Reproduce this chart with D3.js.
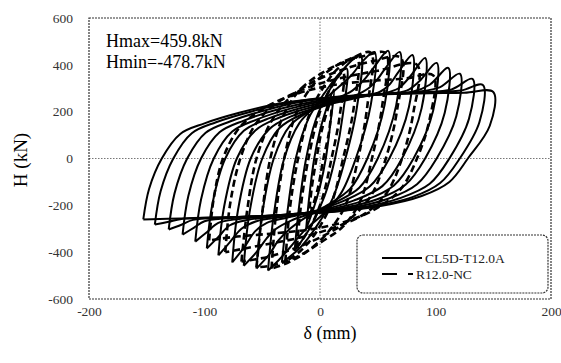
<!DOCTYPE html>
<html>
<head>
<meta charset="utf-8">
<script src="https://cdn.jsdelivr.net/npm/d3@7"></script>
<style>
  html, body { margin: 0; padding: 0; background: #fff; }
</style>
</head>
<body>
<svg id="chart" width="561" height="363"></svg>
<script>
// axis ticks
const xTicks = [-200, -100, 0, 100, 200];
const yTicks = [-600, -400, -200, 0, 200, 400, 600];
const seriesNames = ["CL5D-T12.0A", "R12.0-NC"];
const notes = ["Hmax=459.8kN", "Hmin=-478.7kN"];
const serif = "'Liberation Serif', 'Times New Roman', 'DejaVu Serif', serif";

// CL5D-T12.0A : one array per cycle, [delta (mm), H (kN)]
const loopsCL5D = [
  [[-12,-300],[-9,-150],[-5,0],[0,120],[6,220],[12,295],[9,150],[5,0],[0,-120],[-6,-220],[-12,-300]],
  [[-22,-395],[-18,-200],[-12,0],[-4,160],[8,290],[23,385],[20,195],[13,0],[4,-160],[-8,-290],[-22,-395]],
  [[-33,-445],[-28,-220],[-21,0],[-10,170],[4,280],[18,370],[35,440],[32,220],[22,0],[11,-170],[-3,-290],[-17,-380],[-33,-445]],
  [[-45,-478.7],[-40,-240],[-31,0],[-18,150],[-2,230],[15,300],[28,360],[36,410],[47,455],[44,230],[31,0],[18,-150],[2,-240],[-14,-310],[-26,-380],[-35,-430],[-45,-478.7]],
  [[-55,-470],[-50,-235],[-40,0],[-26,140],[-8,205],[12,250],[28,290],[38,335],[46,385],[59,459.8],[56,230],[41,0],[26,-130],[6,-200],[-12,-250],[-26,-300],[-36,-350],[-44,-410],[-55,-470]],
  [[-66,-458],[-61,-230],[-50,0],[-35,130],[-15,190],[10,235],[30,268],[42,300],[50,340],[58,395],[69,455],[66,228],[50,0],[34,-125],[12,-190],[-8,-235],[-25,-265],[-38,-300],[-46,-340],[-55,-400],[-66,-458]],
  [[-76,-444],[-71,-220],[-60,0],[-44,125],[-25,180],[5,228],[35,262],[52,285],[60,315],[68,370],[80,442],[77,220],[60,0],[43,-120],[20,-182],[-5,-225],[-28,-252],[-46,-275],[-56,-310],[-65,-375],[-76,-444]],
  [[-88,-414],[-83,-205],[-72,0],[-56,120],[-35,175],[-5,222],[28,258],[55,278],[68,300],[78,350],[91,429],[88,215],[71,0],[54,-118],[29,-180],[0,-222],[-30,-248],[-55,-268],[-68,-300],[-78,-357],[-88,-414]],
  [[-98,-384],[-93,-190],[-82,0],[-66,118],[-45,170],[-15,218],[18,254],[55,276],[75,290],[86,330],[101,408],[98,205],[81,0],[64,-115],[39,-178],[5,-220],[-35,-245],[-62,-262],[-78,-285],[-88,-335],[-98,-384]],
  [[-108,-355],[-103,-175],[-92,0],[-76,115],[-55,166],[-25,214],[8,250],[50,273],[80,285],[95,315],[111,387],[108,195],[91,0],[74,-112],[49,-175],[12,-218],[-35,-242],[-70,-258],[-88,-275],[-98,-315],[-108,-355]],
  [[-119,-325],[-114,-160],[-103,0],[-87,112],[-66,162],[-36,210],[-3,246],[40,270],[85,285],[104,305],[121,362],[118,180],[101,0],[84,-110],[59,-172],[22,-215],[-30,-240],[-80,-255],[-100,-268],[-109,-295],[-119,-325]],
  [[-131,-303],[-126,-150],[-115,0],[-99,110],[-78,158],[-48,205],[-15,243],[30,268],[85,282],[114,295],[132,340],[129,170],[112,0],[95,-108],[70,-168],[32,-212],[-20,-238],[-80,-252],[-110,-262],[-120,-283],[-131,-303]],
  [[-143,-282],[-138,-140],[-127,0],[-111,108],[-90,155],[-60,200],[-25,240],[20,265],[80,280],[122,290],[141,314],[138,155],[121,0],[104,-105],[80,-165],[42,-208],[-10,-235],[-70,-250],[-120,-258],[-131,-270],[-143,-282]],
  [[-153,-260],[-148,-130],[-137,0],[-121,105],[-100,150],[-70,195],[-35,235],[10,262],[70,276],[125,281],[150,284],[147,140],[128,0],[112,-100],[88,-160],[50,-205],[0,-232],[-60,-248],[-120,-256],[-153,-260]]
];

// R12.0-NC : one array per cycle
const loopsR12 = [
  [[-10,-260],[-7,-120],[-3,0],[2,130],[10,250],[8,120],[3,0],[-2,-130],[-10,-260]],
  [[-20,-380],[-16,-180],[-10,0],[-2,170],[8,290],[20,370],[17,180],[10,0],[2,-170],[-8,-290],[-20,-380]],
  [[-30,-440],[-26,-210],[-19,0],[-9,190],[5,320],[18,395],[32,430],[29,210],[20,0],[10,-190],[-4,-320],[-17,-395],[-30,-440]],
  [[-42,-470],[-38,-230],[-31,0],[-20,200],[-5,320],[12,390],[28,430],[44,452],[41,225],[33,0],[22,-200],[6,-320],[-12,-400],[-28,-445],[-42,-470]],
  [[-55,-465],[-50,-230],[-43,0],[-32,180],[-18,290],[0,360],[20,410],[40,440],[57,450],[54,230],[45,0],[35,-180],[20,-290],[0,-360],[-20,-420],[-40,-455],[-55,-465]],
  [[-68,-440],[-63,-220],[-55,0],[-42,160],[-25,265],[-5,330],[20,380],[45,415],[70,430],[67,215],[57,0],[44,-160],[25,-262],[5,-325],[-20,-380],[-45,-420],[-68,-440]],
  [[-82,-400],[-78,-200],[-69,0],[-56,145],[-38,235],[-15,295],[15,340],[50,375],[84,400],[81,200],[71,0],[58,-145],[40,-232],[15,-290],[-15,-335],[-50,-370],[-82,-400]],
  [[-96,-350],[-92,-170],[-84,0],[-70,130],[-50,210],[-25,268],[5,308],[40,330],[75,342],[98,355],[95,170],[84,0],[70,-130],[50,-210],[25,-265],[-5,-300],[-40,-320],[-75,-335],[-96,-350]]
];

const svg = d3.select("#chart");
const padL = 89, padR = 551, padT = 18, padB = 299;

const x = d3.scaleLinear().domain([-200, 200]).range([padL, padR]);
const y = d3.scaleLinear().domain([-600, 600]).range([padB, padT]);

// zero lines
svg.append("line")
  .attr("x1", x(-200)).attr("x2", x(200))
  .attr("y1", y(0)).attr("y2", y(0))
  .attr("stroke", "#777").attr("stroke-width", 1)
  .attr("stroke-dasharray", "1.5,1.5");
svg.append("line")
  .attr("x1", x(0)).attr("x2", x(0))
  .attr("y1", y(-600)).attr("y2", y(600))
  .attr("stroke", "#777").attr("stroke-width", 1)
  .attr("stroke-dasharray", "1.5,1.5");

// loops
const line = d3.line()
  .x(d => x(d[0]))
  .y(d => y(d[1]))
  .curve(d3.curveCatmullRom.alpha(0.5));

svg.append("g").selectAll("path")
  .data(loopsCL5D)
  .enter()
  .append("path")
  .attr("d", line)
  .attr("fill", "none")
  .attr("stroke", "#000")
  .attr("stroke-width", 2);

svg.append("g").selectAll("path")
  .data(loopsR12)
  .enter()
  .append("path")
  .attr("d", line)
  .attr("fill", "none")
  .attr("stroke", "#000")
  .attr("stroke-width", 2.6)
  .attr("stroke-dasharray", "7,4");

// frame
svg.append("rect")
  .attr("x", padL).attr("y", padT)
  .attr("width", padR - padL).attr("height", padB - padT)
  .attr("fill", "none")
  .attr("stroke", "#333").attr("stroke-width", 1.2)
  .attr("stroke-dasharray", "2,1");

// axes (labels only)
const xAxis = svg.append("g")
  .attr("transform", "translate(0," + (padB + 7) + ")")
  .call(d3.axisBottom(x).tickValues(xTicks).tickSize(0).tickPadding(0).tickFormat(d => String(d)));
const yAxis = svg.append("g")
  .attr("transform", "translate(" + (padL - 16) + ",0)")
  .call(d3.axisLeft(y).tickValues(yTicks).tickSize(0).tickPadding(0).tickFormat(d => String(d)));
[xAxis, yAxis].forEach(a => {
  a.select(".domain").remove();
  a.attr("font-family", null).attr("font-size", null);
  a.selectAll("text")
    .style("font-family", serif)
    .style("font-size", "13.5px")
    .attr("fill", "#333");
});

svg.append("text")
  .attr("x", 330).attr("y", 339)
  .attr("text-anchor", "middle")
  .style("font-family", serif)
  .style("font-size", "18px")
  .text("δ (mm)");

svg.append("text")
  .attr("transform", "translate(27,160) rotate(-90)")
  .attr("text-anchor", "middle")
  .style("font-family", serif)
  .style("font-size", "19px")
  .text("H (kN)");

// notes
svg.selectAll("text.note")
  .data(notes)
  .enter()
  .append("text")
  .attr("class", "note")
  .attr("x", 106)
  .attr("y", (d, i) => 47 + i * 21)
  .style("font-family", serif)
  .style("font-size", "18px")
  .text(d => d);

// legend
const lg = svg.append("g");
lg.append("rect")
  .attr("x", 357).attr("y", 235)
  .attr("width", 191).attr("height", 58)
  .attr("rx", 6)
  .attr("fill", "#fff")
  .attr("stroke", "#333").attr("stroke-width", 1.2)
  .attr("stroke-dasharray", "2,1");
seriesNames.forEach((name, i) => {
  const yy = 258 + i * 16;
  lg.append("line")
    .attr("x1", 382).attr("x2", i === 0 ? 422 : 413)
    .attr("y1", yy).attr("y2", yy)
    .attr("stroke", "#000").attr("stroke-width", 2)
    .attr("stroke-dasharray", i === 0 ? null : "15,11");
  lg.append("text")
    .attr("x", i === 0 ? 425 : 416)
    .attr("y", yy + 4.5)
    .style("font-family", serif)
    .style("font-size", "13.5px")
    .attr("fill", "#222")
    .text(name);
});
</script>
</body>
</html>
